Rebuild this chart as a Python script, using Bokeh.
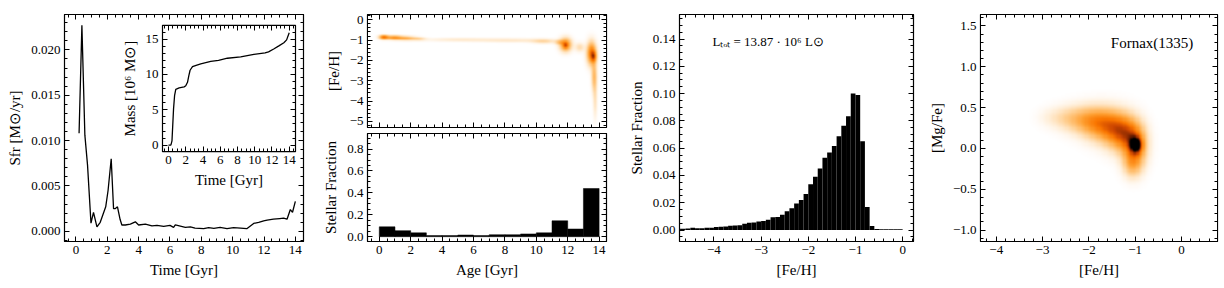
import numpy as np
from bokeh.plotting import figure
from bokeh.layouts import row, column
from bokeh.models import (LinearAxis, Range1d, FixedTicker, NumeralTickFormatter,
                          Label, LinearColorMapper)
from bokeh.embed import file_html
from bokeh.resources import INLINE

FONT = "Liberation Serif"
TICK_FS = "13px"
LAB_FS = "15px"

# ---------------- data ----------------
# Panel 1: star formation rate history
sfr_time = [0.2, 0.38, 0.57, 0.74, 0.96, 1.12, 1.34, 1.55, 1.9, 2.05, 2.25, 2.4, 2.5,
            2.65, 2.82, 2.93, 3.15, 3.47, 3.79, 4.0, 4.43, 4.85, 5.17, 5.6, 6.0, 6.23,
            6.34, 6.66, 6.98, 7.3, 7.6, 8.15, 8.47, 8.8, 9.2, 9.64, 10.06, 10.5, 10.9,
            11.34, 11.66, 11.98, 12.2, 12.6, 13.0, 13.25, 13.47, 13.68, 13.82, 14.0]
sfr_vals = [0.0108, 0.0227, 0.0106, 0.0073, 0.0009, 0.0021, 0.0005, 0.0010, 0.0027,
            0.0045, 0.0080, 0.0025, 0.0025, 0.0027, 0.0013, 0.0007, 0.0007, 0.0008,
            0.00105, 0.0007, 0.0008, 0.0006, 0.00065, 0.00054, 0.00065, 0.00043,
            0.0007, 0.00058, 0.00043, 0.0005, 0.00036, 0.00029, 0.0004, 0.00033,
            0.00043, 0.00029, 0.0004, 0.00036, 0.00029, 0.00087, 0.0010, 0.00116,
            0.00123, 0.00134, 0.00141, 0.00145, 0.00134, 0.0024, 0.0021, 0.0033]

# Inset: cumulative stellar mass [10^6 Msun]
mass_time = [0.0, 0.27, 0.4, 0.58, 0.7, 0.84, 1.23, 1.81, 2.0, 2.2, 2.35, 2.5, 2.78,
             3.2, 3.74, 4.9, 5.8, 6.83, 8.37, 9.9, 11.2, 11.6, 12.2, 12.8, 13.38,
             13.7, 14.0]
mass_vals = [0.0, 0.0, 0.6, 5.1, 7.0, 7.9, 8.1, 8.25, 8.4, 8.9, 9.8, 10.6, 11.1,
             11.3, 11.5, 11.85, 12.0, 12.3, 12.5, 12.85, 13.05, 13.2, 13.6, 14.05,
             14.5, 14.9, 15.9]

# Panel 2 bottom: stellar fraction per age bin
age_edges = [0, 1, 2, 3, 4, 5, 6, 7, 8, 9, 10, 11, 12, 13, 14]
age_frac = [0.09, 0.055, 0.035, 0.01, 0.01, 0.015, 0.01, 0.018, 0.018, 0.025,
            0.035, 0.145, 0.07, 0.44]

# Panel 2 top: age-metallicity density, blobs
amr_age = [0.25, 0.9, 1.7, 2.5, 5.0, 8.5, 10.5, 11.5, 11.9, 11.9, 12.8, 13.55, 13.7, 13.72, 13.78]
amr_feh = [-0.85, -0.87, -0.9, -0.93, -0.97, -1.0, -1.05, -1.1, -1.22, -1.25, -1.35, -1.65,
           -1.8, -2.8, -4.0]
amr_sa = [0.2, 0.35, 0.4, 0.3, 1.5, 1.5, 0.5, 0.2, 0.25, 0.1, 0.2, 0.2, 0.12, 0.12, 0.09]
amr_sf = [0.07, 0.07, 0.07, 0.06, 0.06, 0.07, 0.08, 0.08, 0.22, 0.1, 0.15, 0.38, 0.18, 0.5, 0.6]
amr_w = [0.58, 0.47, 0.33, 0.15, 0.1, 0.1, 0.15, 0.2, 0.55, 0.2, 0.15, 0.6, 0.35, 0.3, 0.12]

# Panel 3: metallicity distribution function
feh_edges = [-4.8, -4.7, -4.6, -4.5, -4.4, -4.3, -4.2, -4.1, -4.0, -3.9, -3.8, -3.7,
             -3.6, -3.5, -3.4, -3.3, -3.2, -3.1, -3.0, -2.9, -2.8, -2.7, -2.6, -2.5,
             -2.4, -2.3, -2.2, -2.1, -2.0, -1.9, -1.8, -1.7, -1.6, -1.5, -1.4, -1.3,
             -1.2, -1.1, -1.0, -0.9, -0.8, -0.7, -0.6, -0.5, -0.4, -0.3, -0.2, -0.1, 0.0]
feh_frac = [0.001, 0.001, 0.0012, 0.0017, 0.0014, 0.0014, 0.0017, 0.0017, 0.0022,
            0.0024, 0.0026, 0.0031, 0.0034, 0.0036, 0.0046, 0.0053, 0.0055, 0.0063,
            0.0067, 0.0075, 0.0094, 0.0096, 0.0113, 0.0137, 0.016, 0.0195, 0.022,
            0.0265, 0.0335, 0.039, 0.0452, 0.053, 0.0568, 0.0616, 0.0688, 0.0765,
            0.0835, 0.100, 0.099, 0.065, 0.0168, 0.003, 0.0008, 0.0005, 0.0005,
            0.0005, 0.0005, 0.0005]

# Panel 4: [Mg/Fe] vs [Fe/H] density, blobs
mg_feh = [-0.97, -1.0, -1.25, -1.6, -2.0, -2.45, -2.85, -1.05]
mg_mgfe = [0.04, 0.03, 0.18, 0.28, 0.34, 0.37, 0.38, -0.2]
mg_sx = [0.09, 0.17, 0.23, 0.28, 0.28, 0.26, 0.2, 0.14]
mg_sy = [0.07, 0.17, 0.15, 0.14, 0.12, 0.1, 0.08, 0.11]
mg_w = [0.6, 0.5, 0.52, 0.47, 0.32, 0.15, 0.04, 0.25]

total_lum_text = "Lₜₒₜ = 13.87 · 10⁶ L⊙"
galaxy_name = "Fornax(1335)"

# ---------------- colour map ----------------
pal_pos = [0, 0.08, 0.22, 0.42, 0.6, 0.75, 0.88, 1.0]
pal_rgb = [(255, 255, 255), (255, 238, 215), (255, 205, 140), (255, 160, 50),
           (250, 118, 0), (205, 70, 0), (110, 30, 0), (0, 0, 0)]
grid = np.linspace(0, 1, 256)
chan = [np.interp(grid, pal_pos, [c[i] for c in pal_rgb]) for i in range(3)]
palette = ["#%02x%02x%02x" % (int(r), int(g), int(b)) for r, g, b in zip(*chan)]
mapper = LinearColorMapper(palette=palette, low=0, high=1)


def density(xs, ys, cx, cy, sx, sy, w):
    X, Y = np.meshgrid(xs, ys)
    D = np.zeros_like(X)
    for a, b, c, d, e in zip(cx, cy, sx, sy, w):
        D += e * np.exp(-0.5 * (((X - a) / c) ** 2 + ((Y - b) / d) ** 2))
    return np.clip(D, 0, 1)


def tk(lo, hi, step):
    return [float(v) for v in np.round(np.arange(lo, hi + step / 2, step), 6)]


def minus_labels(vals, fmt):
    return {v: (fmt % v).replace("-", "−") for v in vals}


def make_fig(w, h, xr, yr, lb, rb, tb, bb):
    p = figure(width=w, height=h, x_range=xr, y_range=yr, output_backend="svg",
               toolbar_location=None, min_border_left=lb, min_border_right=rb,
               min_border_top=tb, min_border_bottom=bb)
    p.xgrid.visible = False
    p.ygrid.visible = False
    p.outline_line_color = "black"
    p.outline_line_width = 1.2
    p.background_fill_color = "white"
    p.border_fill_color = "white"
    return p


def style_axis(ax, major, minor, labels=True, label=None, overrides=None, fmt=None):
    ax.ticker = FixedTicker(ticks=major, minor_ticks=minor)
    ax.major_tick_in = 5
    ax.major_tick_out = 0
    ax.minor_tick_in = 3
    ax.minor_tick_out = 0
    ax.major_tick_line_color = "black"
    ax.minor_tick_line_color = "black"
    ax.axis_line_color = "black"
    ax.major_label_text_font = FONT
    if labels:
        ax.major_label_text_color = "black"
        ax.major_label_text_font_size = TICK_FS
        ax.major_label_standoff = 4
    else:
        ax.major_label_text_color = None
        ax.major_label_text_alpha = 0
        ax.major_label_text_font_size = "1px"
        ax.major_label_standoff = 0
    if fmt is not None:
        ax.formatter = fmt
    if overrides is not None:
        ax.major_label_overrides = overrides
    if label:
        ax.axis_label = label
        ax.axis_label_text_font = FONT
        ax.axis_label_text_font_size = LAB_FS
        ax.axis_label_text_font_style = "normal"
        ax.axis_label_text_color = "black"
        ax.axis_label_standoff = 5


def mirror(p, xmajor, xminor, ymajor, yminor):
    top = LinearAxis()
    style_axis(top, xmajor, xminor, labels=False)
    p.add_layout(top, "above")
    right = LinearAxis()
    style_axis(right, ymajor, yminor, labels=False)
    p.add_layout(right, "right")


TOP = 14          # frame top (page px)
H_FULL = 280      # figure height for full-height panels

# ---------------- panel 1 ----------------
F_W, F_H = 239, 230
x1 = (-0.73, 14.52)
y1 = (-0.00112, 0.0239)
p1 = make_fig(320, H_FULL, Range1d(*x1), Range1d(*y1), 64, 17, TOP, 36)
p1.line(sfr_time, sfr_vals, color="black", line_width=1.3)
xmaj1, xmin1 = tk(0, 14, 2), tk(-0.5, 14.5, 0.5)
ymaj1, ymin1 = tk(0, 0.02, 0.005), tk(-0.001, 0.023, 0.001)
style_axis(p1.xaxis[0], xmaj1, xmin1, label="Time [Gyr]")
style_axis(p1.yaxis[0], ymaj1, ymin1, label="Sfr [M⊙/yr]",
           fmt=NumeralTickFormatter(format="0.000"))
mirror(p1, xmaj1, xmin1, ymaj1, ymin1)

# inset geometry (pixels, relative to main frame)
ins_l, ins_r, ins_t, ins_b = 162 - 64, 295 - 64, 25 - 14, 153 - 14
ix = (-0.7, 14.73)
iy = (-0.92, 16.95)
sx_ = (ix[1] - ix[0]) / (ins_r - ins_l)
sy_ = (iy[1] - iy[0]) / (ins_b - ins_t)
p1.extra_x_ranges = {"ix": Range1d(ix[0] - ins_l * sx_, ix[1] + (F_W - ins_r) * sx_)}
p1.extra_y_ranges = {"iy": Range1d(iy[0] - (F_H - ins_b) * sy_, iy[1] + ins_t * sy_)}
p1.quad(left=ix[0], right=ix[1], bottom=iy[0], top=iy[1], x_range_name="ix",
        y_range_name="iy", fill_color="white", line_color="black", line_width=1.2)
p1.line(mass_time, mass_vals, x_range_name="ix", y_range_name="iy",
        color="black", line_width=1.3)
ixmaj, ixmin = tk(0, 14, 2), tk(-0.5, 14.5, 0.5)
iymaj, iymin = tk(0, 15, 5), tk(0, 16, 1)
ib = LinearAxis(x_range_name="ix", y_range_name="iy", fixed_location=iy[0], bounds=ix)
style_axis(ib, ixmaj, ixmin, label="Time [Gyr]")
p1.add_layout(ib, "below")
il = LinearAxis(x_range_name="ix", y_range_name="iy", fixed_location=ix[0], bounds=iy)
style_axis(il, iymaj, iymin, label="Mass [10⁶ M⊙]")
p1.add_layout(il, "left")
it = LinearAxis(x_range_name="ix", y_range_name="iy", fixed_location=iy[1], bounds=ix)
style_axis(it, ixmaj, ixmin, labels=False)
p1.add_layout(it, "above")
ir = LinearAxis(x_range_name="ix", y_range_name="iy", fixed_location=ix[1], bounds=iy)
style_axis(ir, iymaj, iymin, labels=False)
p1.add_layout(ir, "right")

# ---------------- panel 2 ----------------
x2 = Range1d(-0.75, 14.47)
y2a = (-5.3, 0.26)
p2a = make_fig(305, 130, x2, Range1d(*y2a), 47, 19, TOP, 3)
ax_ = np.linspace(x2.start, x2.end, 240)
ay_ = np.linspace(y2a[0], y2a[1], 160)
D2 = density(ax_, ay_, amr_age, amr_feh, amr_sa, amr_sf, amr_w)
p2a.image(image=[D2], x=x2.start, y=y2a[0], dw=x2.end - x2.start, dh=y2a[1] - y2a[0],
          color_mapper=mapper)
xmaj2, xmin2 = tk(0, 14, 2), tk(-0.5, 14.5, 0.5)
ymaj2a, ymin2a = tk(-5, 0, 1), tk(-5.2, 0.2, 0.2)
style_axis(p2a.xaxis[0], xmaj2, xmin2, labels=False)
style_axis(p2a.yaxis[0], ymaj2a, ymin2a, label="[Fe/H]",
           overrides=minus_labels(ymaj2a, "%d"))
mirror(p2a, xmaj2, xmin2, ymaj2a, ymin2a)

y2b = (-0.044, 0.942)
p2b = make_fig(305, 150, x2, Range1d(*y2b), 47, 19, 3, 36)
p2b.quad(left=age_edges[:-1], right=age_edges[1:], bottom=0, top=age_frac,
         fill_color="black", line_color="black", line_width=0.5)
ymaj2b, ymin2b = tk(0, 0.8, 0.2), tk(0, 0.9, 0.05)
style_axis(p2b.xaxis[0], xmaj2, xmin2, label="Age [Gyr]")
style_axis(p2b.yaxis[0], ymaj2b, ymin2b, label="Stellar Fraction",
           fmt=NumeralTickFormatter(format="0.0"))
mirror(p2b, xmaj2, xmin2, ymaj2b, ymin2b)

# ---------------- panel 3 ----------------
x3 = (-4.73, 0.23)
y3 = (-0.0084, 0.158)
p3 = make_fig(300, H_FULL, Range1d(*x3), Range1d(*y3), 46, 12, TOP, 36)
p3.quad(left=feh_edges[:-1], right=feh_edges[1:], bottom=0, top=feh_frac,
        fill_color="black", line_color=None)
xmaj3, xmin3 = tk(-4, 0, 1), tk(-4.6, 0.2, 0.2)
ymaj3, ymin3 = tk(0, 0.14, 0.02), tk(-0.005, 0.155, 0.005)
style_axis(p3.xaxis[0], xmaj3, xmin3, label="[Fe/H]", overrides=minus_labels(xmaj3, "%d"))
style_axis(p3.yaxis[0], ymaj3, ymin3, label="Stellar Fraction",
           fmt=NumeralTickFormatter(format="0.00"))
mirror(p3, xmaj3, xmin3, ymaj3, ymin3)
p3.add_layout(Label(x=-4.03, y=0.138, text=total_lum_text, text_font=FONT,
                    text_font_size="13px", text_baseline="middle", text_align="left",
                    text_color="black"))

# ---------------- panel 4 ----------------
x4 = (-4.34, 0.78)
y4 = (-1.14, 1.64)
p4 = make_fig(297, H_FULL, Range1d(*x4), Range1d(*y4), 50, 5, TOP, 36)
gx = np.linspace(x4[0], x4[1], 200)
gy = np.linspace(y4[0], y4[1], 200)
D4 = density(gx, gy, mg_feh, mg_mgfe, mg_sx, mg_sy, mg_w)
p4.image(image=[D4], x=x4[0], y=y4[0], dw=x4[1] - x4[0], dh=y4[1] - y4[0],
         color_mapper=mapper)
xmaj4, xmin4 = tk(-4, 0, 1), tk(-4.2, 0.6, 0.2)
ymaj4, ymin4 = tk(-1.0, 1.5, 0.5), tk(-1.1, 1.6, 0.1)
style_axis(p4.xaxis[0], xmaj4, xmin4, label="[Fe/H]", overrides=minus_labels(xmaj4, "%d"))
style_axis(p4.yaxis[0], ymaj4, ymin4, label="[Mg/Fe]",
           overrides=minus_labels(ymaj4, "%.1f"))
mirror(p4, xmaj4, xmin4, ymaj4, ymin4)
p4.add_layout(Label(x=-1.525, y=1.29, text=galaxy_name, text_font=FONT,
                    text_font_size="15px", text_baseline="middle", text_align="left",
                    text_color="black"))

layout = row(p1, column(p2a, p2b), p3, p4)
open("out.html", "w").write(file_html(layout, INLINE))
